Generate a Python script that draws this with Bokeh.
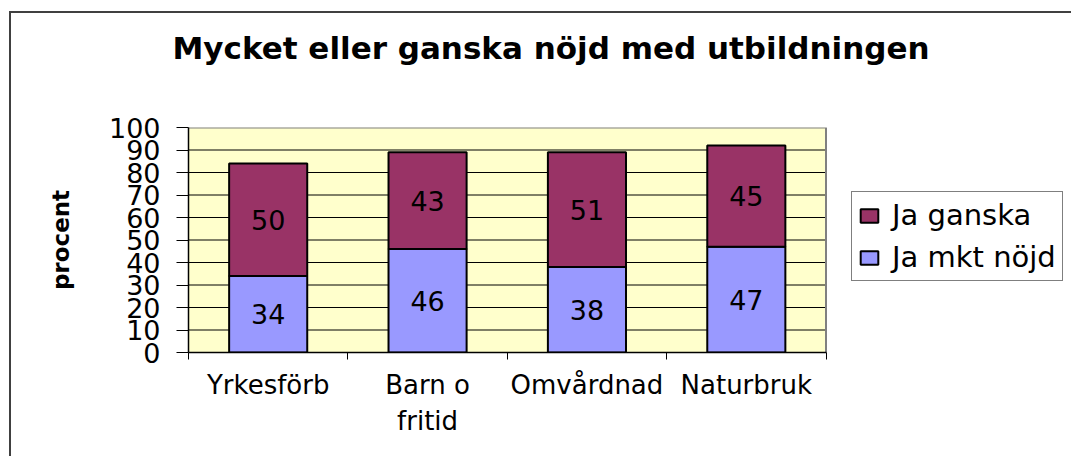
from bokeh.plotting import figure
from bokeh.models import (Range1d, FixedTicker, Legend, LegendItem, ColumnDataSource, Title)
from bokeh.core.properties import value
from bokeh.embed import file_html
from bokeh.resources import INLINE

# ---- data ----
categories = ["Yrkesförb", "Barn o\nfritid", "Omvårdnad", "Naturbruk"]
ja_mkt_nojd = [34, 46, 38, 47]
ja_ganska = [50, 43, 51, 45]
series_names = ["Ja ganska", "Ja mkt nöjd"]
y_ticks = [0, 10, 20, 30, 40, 50, 60, 70, 80, 90, 100]
title_text = "Mycket eller ganska nöjd med utbildningen"
y_label = "procent"

FONT = "DejaVu Sans"
C_GANSKA = "#993366"
C_NOJD = "#9999FF"
C_BG = "#FFFFCC"

# layout (pixels)
W, H = 1071, 456
LEFT, TOP, BOTTOM = 188, 127, 104
PLOT_PX = 637.5          # width of the yellow plotting area
FRAME_PX = W - LEFT      # frame reaches the right edge so the legend can sit in it

n = len(categories)
y_max = y_ticks[-1]
xs = [i + 0.5 for i in range(n)]
top_ganska = [a + b for a, b in zip(ja_mkt_nojd, ja_ganska)]

src = ColumnDataSource(dict(
    x=xs,
    nojd=ja_mkt_nojd,
    ganska=ja_ganska,
    top_ganska=top_ganska,
    zero=[0] * n,
    mid_nojd=[v / 2 for v in ja_mkt_nojd],
    mid_ganska=[a + b / 2 for a, b in zip(ja_mkt_nojd, ja_ganska)],
    lab_nojd=[str(v) for v in ja_mkt_nojd],
    lab_ganska=[str(v) for v in ja_ganska],
))

p = figure(width=W, height=H,
           x_range=Range1d(0, n * FRAME_PX / PLOT_PX), y_range=Range1d(0, y_max),
           output_backend="svg", toolbar_location=None,
           min_border_left=LEFT, min_border_right=0,
           min_border_top=TOP, min_border_bottom=BOTTOM)
# outer chart border (only left/top visible, as in the reference)
p.styles = {"background": ("linear-gradient(#404040,#404040) 9px 11px / 2px 100% no-repeat, "
                           "linear-gradient(#404040,#404040) 9px 11px / 100% 2px no-repeat, white")}
p.border_fill_color = None
p.background_fill_color = None
p.outline_line_color = None

# title: default title hidden; a thin spacer next to the frame, then the real title
p.title.text = ""
p.title.visible = False
p.add_layout(Title(text=" ", text_font_size="2px", standoff=56), "above")
p.add_layout(Title(text=title_text, text_font=FONT, text_font_size="31px",
                   text_font_style="bold", text_color="black",
                   align="left", offset=-16, vertical_align="top", standoff=0), "above")

# plotting area background, gridlines and outline
p.quad(left=0, right=n, bottom=0, top=y_max, fill_color=C_BG, line_color=None)
p.segment(x0=[0] * (len(y_ticks) - 2), x1=[n] * (len(y_ticks) - 2),
          y0=y_ticks[1:-1], y1=y_ticks[1:-1], line_color="black", line_width=1)
p.line(x=[0, n, n], y=[y_max, y_max, 0], line_color="#808080", line_width=2)
p.xgrid.visible = False
p.ygrid.visible = False

# bars
r_nojd = p.vbar(x="x", width=0.49, bottom="zero", top="nojd", source=src,
                fill_color=C_NOJD, line_color="black", line_width=2)
r_ganska = p.vbar(x="x", width=0.49, bottom="nojd", top="top_ganska", source=src,
                  fill_color=C_GANSKA, line_color="black", line_width=2)

p.text(x="x", y="mid_nojd", text="lab_nojd", source=src,
       text_align="center", text_baseline="middle",
       text_font=value(FONT), text_font_size="27px", text_color="black")
p.text(x="x", y="mid_ganska", text="lab_ganska", source=src,
       text_align="center", text_baseline="middle",
       text_font=value(FONT), text_font_size="27px", text_color="black")

# y axis
ya = p.yaxis[0]
ya.ticker = FixedTicker(ticks=y_ticks)
ya.major_tick_out = 12
ya.major_tick_in = 0
ya.minor_tick_out = 0
ya.minor_tick_in = 0
ya.major_tick_line_color = "black"
ya.axis_line_color = "black"
ya.axis_line_width = 1.5
ya.major_label_standoff = 16
ya.major_label_text_font = FONT
ya.major_label_text_font_size = "27px"
ya.major_label_text_color = "black"
ya.axis_label = y_label
ya.axis_label_text_font = FONT
ya.axis_label_text_font_size = "23px"
ya.axis_label_text_font_style = "bold"
ya.axis_label_text_color = "black"
ya.axis_label_standoff = 32

# x axis: labels at category centres, ticks at category boundaries
xa = p.xaxis[0]
xa.bounds = (0, n)
xa.ticker = FixedTicker(ticks=xs, minor_ticks=list(range(n + 1)))
xa.major_label_overrides = {x: c for x, c in zip(xs, categories)}
xa.major_tick_out = 0
xa.major_tick_in = 0
xa.minor_tick_out = 7
xa.minor_tick_in = 0
xa.minor_tick_line_color = "black"
xa.axis_line_color = "black"
xa.axis_line_width = 1.5
xa.major_label_standoff = 10
xa.major_label_text_font = FONT
xa.major_label_text_font_size = "26px"
xa.major_label_text_color = "black"

# legend, inside the (wide) frame to the right of the plotting area
legend = Legend(items=[LegendItem(label=series_names[0], renderers=[r_ganska]),
                       LegendItem(label=series_names[1], renderers=[r_nojd])],
                location=(663, 71), orientation="vertical",
                glyph_width=22, glyph_height=17,
                label_text_font=FONT, label_text_font_size="29px",
                label_text_color="black",
                label_standoff=12, spacing=8, padding=6, margin=0,
                border_line_color="black", border_line_width=1,
                background_fill_color="white")
p.add_layout(legend)

open("out.html", "w").write(file_html(p, INLINE))
